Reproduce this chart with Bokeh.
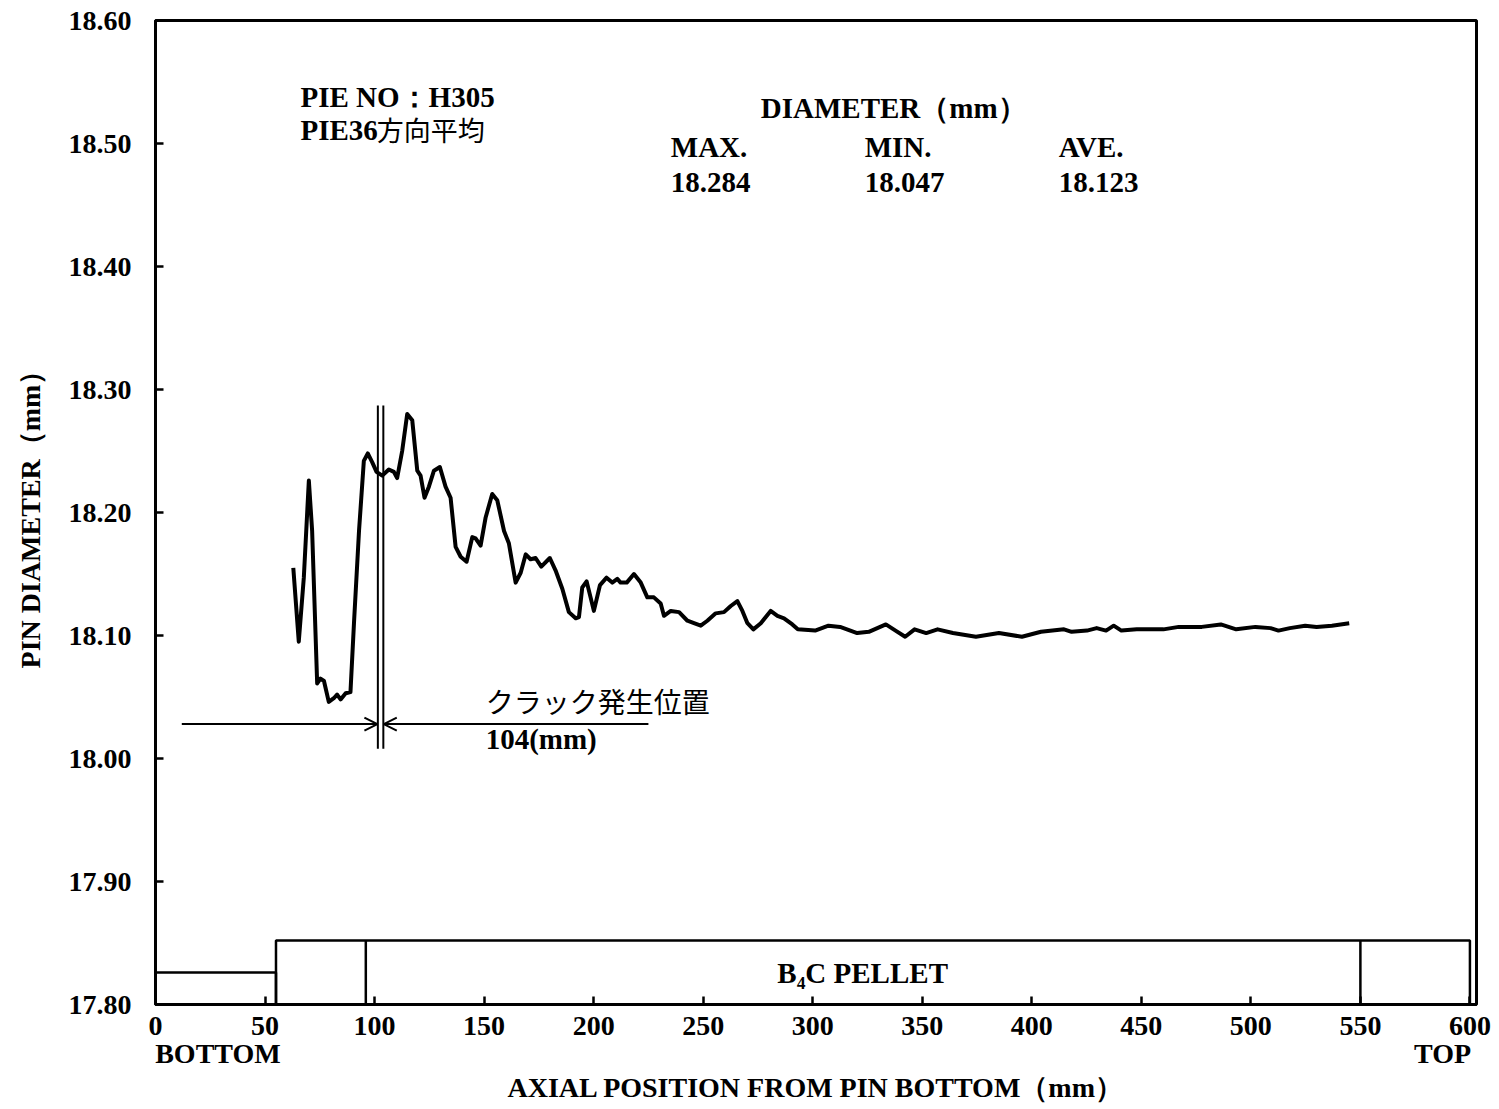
from bokeh.plotting import figure
from bokeh.models import FixedTicker, Label, Arrow, OpenHead, Range1d, LinearAxis
from bokeh.embed import file_html
from bokeh.resources import INLINE

# ---- data ----
pos_mm = [62.9, 65.4, 67.7, 70.0, 71.5, 73.8, 75.3, 76.9, 79.1, 81.4, 82.9, 84.5, 86.8, 89.0,
          90.6, 92.9, 95.1, 96.9, 98.9, 100.9, 103.5, 106.5, 108.8, 110.3, 112.6, 114.9, 117.2,
          119.5, 121.0, 122.8, 124.8, 127.1, 129.8, 132.4, 134.7, 137.0, 139.3, 142.0, 144.6,
          146.1, 148.4, 150.7, 153.7, 156.0, 159.1, 161.3, 164.4, 166.7, 169.0, 171.2, 173.5,
          176.1, 180.0, 182.6, 185.7, 188.7, 191.8, 193.3, 194.8, 196.8, 198.6, 200.1, 202.9,
          205.9, 208.5, 210.8, 212.3, 215.1, 218.4, 221.5, 224.5, 227.5, 230.6, 232.1, 235.2,
          239.0, 242.8, 245.8, 248.9, 251.9, 255.7, 259.5, 262.6, 265.6, 267.9, 270.2, 272.9,
          276.3, 280.8, 283.9, 286.9, 290.7, 293.2, 301.1, 307.2, 312.5, 320.3, 325.6, 333.4,
          337.8, 342.2, 346.5, 351.8, 357.0, 364.0, 374.5, 385.0, 395.5, 404.2, 414.7, 418.2,
          425.2, 429.6, 433.9, 437.4, 440.9, 447.9, 453.2, 460.1, 467.1, 477.6, 486.3, 493.3,
          502.1, 509.0, 512.6, 517.8, 524.8, 530.0, 537.0, 544.9]
diameter = [18.155, 18.095, 18.147, 18.226, 18.185, 18.061, 18.065, 18.063, 18.046, 18.049,
            18.052, 18.048, 18.053, 18.054, 18.110, 18.185, 18.242, 18.248, 18.241, 18.233,
            18.230, 18.235, 18.233, 18.228, 18.250, 18.280, 18.275, 18.234, 18.230, 18.212,
            18.221, 18.234, 18.237, 18.221, 18.212, 18.172, 18.164, 18.160, 18.180, 18.179,
            18.173, 18.196, 18.215, 18.210, 18.185, 18.175, 18.143, 18.151, 18.166, 18.162,
            18.163, 18.156, 18.163, 18.153, 18.138, 18.119, 18.114, 18.115, 18.139, 18.144,
            18.131, 18.120, 18.141, 18.147, 18.143, 18.146, 18.143, 18.143, 18.150, 18.143,
            18.131, 18.131, 18.126, 18.116, 18.120, 18.119, 18.112, 18.110, 18.108, 18.112,
            18.118, 18.119, 18.124, 18.128, 18.120, 18.110, 18.105, 18.110, 18.120, 18.116,
            18.114, 18.109, 18.105, 18.104, 18.108, 18.107, 18.102, 18.103, 18.109, 18.104,
            18.099, 18.105, 18.102, 18.105, 18.102, 18.099, 18.102, 18.099, 18.103, 18.105,
            18.103, 18.104, 18.106, 18.104, 18.108, 18.104, 18.105, 18.105, 18.105, 18.107,
            18.107, 18.109, 18.105, 18.107, 18.106, 18.104, 18.106, 18.108, 18.107, 18.108,
            18.110]

x_ticks = [0, 50, 100, 150, 200, 250, 300, 350, 400, 450, 500, 550, 600]
y_ticks = [17.80, 17.90, 18.00, 18.10, 18.20, 18.30, 18.40, 18.50, 18.60]
end_labels = {28.5: "BOTTOM", 587.5: "TOP"}

# pin structure boxes (bottom plug, pellet column)
box_left = [0, 55]
box_right = [55, 600]
box_bottom = [17.80, 17.80]
box_top = [17.826, 17.852]
divider_x = [96, 550]

crack_lines_x = [101.5, 104.0]
crack_pos = 104

SERIF = "Liberation Serif"
CJK = "Noto Sans CJK JP"

p = figure(width=1495, height=1108, x_range=Range1d(0, 603), y_range=Range1d(17.80, 18.60),
           output_backend="svg", toolbar_location=None,
           min_border_left=155, min_border_right=19, min_border_top=20, min_border_bottom=104)
p.grid.visible = False
p.outline_line_color = "black"
p.outline_line_width = 3
p.background_fill_color = "white"
p.border_fill_color = "white"


def style_axis(ax):
    ax.axis_line_width = 3
    ax.axis_line_color = "black"
    ax.major_tick_in = 8
    ax.major_tick_out = 0
    ax.major_tick_line_width = 2.5
    ax.minor_tick_line_color = None
    ax.major_label_text_font = SERIF
    ax.major_label_text_font_style = "bold"
    ax.major_label_text_font_size = "28px"
    ax.major_label_text_color = "black"
    ax.axis_label_text_font = SERIF
    ax.axis_label_text_font_style = "bold"
    ax.axis_label_text_font_size = "28px"
    ax.axis_label_text_color = "black"


style_axis(p.xaxis[0])
style_axis(p.yaxis[0])

p.xaxis[0].ticker = FixedTicker(ticks=x_ticks)
p.yaxis[0].ticker = FixedTicker(ticks=y_ticks)
p.yaxis[0].major_label_overrides = {v: "%.2f" % v for v in y_ticks}
p.xaxis[0].major_label_standoff = 12
p.yaxis[0].major_label_standoff = 24
p.yaxis[0].axis_label = "PIN DIAMETER（mm）"
p.yaxis[0].axis_label_standoff = 20

# second row below the x axis: BOTTOM / TOP and the axis title
ax2 = LinearAxis(ticker=FixedTicker(ticks=list(end_labels.keys())),
                 major_label_overrides=end_labels)
style_axis(ax2)
ax2.axis_line_color = None
ax2.major_tick_line_color = None
ax2.major_tick_in = 0
ax2.major_label_standoff = 0
ax2.axis_label = "AXIAL POSITION FROM PIN BOTTOM（mm）"
ax2.axis_label_standoff = 0
p.add_layout(ax2, "below")

# pin structure
p.quad(left=box_left, right=box_right, bottom=box_bottom, top=box_top,
       fill_alpha=0, line_color="black", line_width=2.5)
p.segment(x0=divider_x, x1=divider_x, y0=[17.80] * 2, y1=[17.852] * 2,
          line_color="black", line_width=2.5)

# diameter profile
p.line(pos_mm, diameter, line_color="black", line_width=4, line_join="round")

# crack position markers
p.segment(x0=crack_lines_x, x1=crack_lines_x, y0=[18.008] * 2, y1=[18.287] * 2,
          line_color="black", line_width=2)
p.add_layout(Arrow(end=OpenHead(size=13, line_width=2, line_color="black"),
                   x_start=12, y_start=18.028, x_end=crack_lines_x[0] - 0.2, y_end=18.028,
                   line_width=2, line_color="black"))
p.add_layout(Arrow(end=OpenHead(size=13, line_width=2, line_color="black"),
                   x_start=225, y_start=18.028, x_end=crack_lines_x[1] + 0.2, y_end=18.028,
                   line_width=2, line_color="black"))


def lab(x, y, t, font=SERIF, size="29px", align="left", style="bold"):
    p.add_layout(Label(x=x, y=y, text=t, text_font=font, text_font_size=size,
                       text_font_style=style, text_baseline="middle", text_align=align,
                       text_color="black"))


lab(66.2, 18.538, "PIE NO：H305")
lab(66.2, 18.511, "PIE36")
lab(101.0, 18.511, "方向平均", font=CJK, size="27px", style="normal")
lab(276.3, 18.529, "DIAMETER（mm）")
lab(235.2, 18.497, "MAX.")
lab(323.7, 18.497, "MIN.")
lab(412.3, 18.497, "AVE.")
lab(235.2, 18.468, "18.284")
lab(323.7, 18.468, "18.047")
lab(412.3, 18.468, "18.123")
lab(150.7, 18.047, "クラック発生位置", font=CJK, size="28px", style="normal")
lab(150.7, 18.016, "%d(mm)" % crack_pos)
lab(322.8, 17.826, "B₄C PELLET", align="center")

open("out.html", "w").write(file_html(p, INLINE))
